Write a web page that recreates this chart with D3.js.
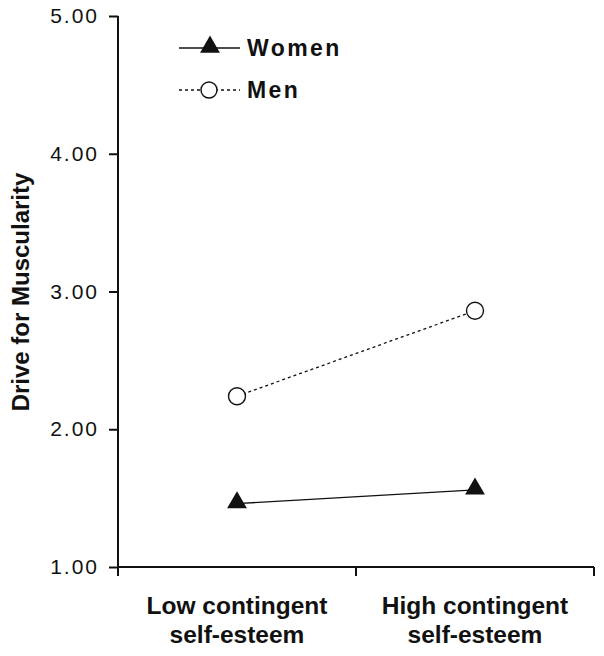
<!DOCTYPE html>
<html><head><meta charset="utf-8">
<script src="https://cdn.jsdelivr.net/npm/d3@7"></script>
<style>body{margin:0;background:#fff}svg{display:block}text{font-family:"Liberation Sans",Arial,sans-serif;fill:#111}</style>
</head><body>
<svg id="c" width="604" height="656"></svg>
<script>
const categories = ["Low contingent|self-esteem", "High contingent|self-esteem"];
const women = [1.46, 1.56];
const men = [2.24, 2.86];
const yTicks = [1, 2, 3, 4, 5];
const seriesNames = ["Women", "Men"];

const svg = d3.select("#c");
const x = d3.scaleBand().domain(categories).range([118, 594]);
const y = d3.scaleLinear().domain([1, 5]).range([567, 16]);
const cx = d => x(d) + x.bandwidth() / 2;

// Y axis
const ya = svg.append("g").attr("transform", "translate(118,0)")
  .call(d3.axisLeft(y).tickValues(yTicks).tickFormat(d3.format(".2f")).tickSize(9).tickPadding(10));
ya.select(".domain").attr("stroke", "#111").attr("stroke-width", 2).attr("d", "M0,16V567");
ya.selectAll(".tick line").attr("stroke", "#111").attr("stroke-width", 2);
ya.selectAll(".tick text").style("font-size", "21px").style("letter-spacing", "2px").attr("fill", "#111");

// X axis
const xa = svg.append("g").attr("transform", "translate(0,567)")
  .call(d3.axisBottom(x).tickFormat("").tickSize(0));
xa.select(".domain").attr("stroke", "#111").attr("stroke-width", 2).attr("d", "M118,0H594");
xa.selectAll(".tick").remove();
const xt = [118, ...categories.map(c => x(c) + x.bandwidth())];
xa.selectAll("line.xt").data(xt).enter().append("line")
  .attr("x1", d => d).attr("x2", d => d).attr("y1", 0).attr("y2", 9)
  .attr("stroke", "#111").attr("stroke-width", 2);

// X labels
categories.forEach(c => {
  const lines = c.split("|");
  lines.forEach((l, i) => {
    svg.append("text").attr("x", cx(c)).attr("y", 614 + i * 29)
      .attr("text-anchor", "middle").style("font-size", "24.5px").style("font-weight", "bold").text(l);
  });
});

// Y label
svg.append("text").attr("transform", "translate(29,292) rotate(-90)")
  .attr("text-anchor", "middle").style("font-size", "24px").style("font-weight", "bold")
  .text("Drive for Muscularity");

const line = d3.line().x((d, i) => cx(categories[i])).y(d => y(d));
const tri = d3.symbol().type(d3.symbolTriangle).size(170);

// Men
svg.append("path").attr("d", line(men)).attr("fill", "none").attr("stroke", "#111")
  .attr("stroke-width", 1.3).attr("stroke-dasharray", "3,3");
svg.selectAll("circle.m").data(men).enter().append("circle")
  .attr("cx", (d, i) => cx(categories[i])).attr("cy", d => y(d)).attr("r", 8.5)
  .attr("fill", "#fff").attr("stroke", "#111").attr("stroke-width", 1.4);

// Women
svg.append("path").attr("d", line(women)).attr("fill", "none").attr("stroke", "#111").attr("stroke-width", 1.4);
svg.selectAll("path.w").data(women).enter().append("path")
  .attr("transform", (d, i) => `translate(${cx(categories[i])},${y(d) - 1})`)
  .attr("d", tri).attr("fill", "#111");

// Legend
const lg = svg.append("g");
lg.append("line").attr("x1", 179).attr("x2", 240).attr("y1", 48).attr("y2", 48).attr("stroke", "#111").attr("stroke-width", 1.4);
lg.append("path").attr("transform", "translate(210,47)").attr("d", tri).attr("fill", "#111");
lg.append("text").attr("x", 247).attr("y", 56).style("font-size", "23px").style("font-weight", "bold").style("letter-spacing", "2.4px").text(seriesNames[0]);
lg.append("line").attr("x1", 179).attr("x2", 240).attr("y1", 90).attr("y2", 90).attr("stroke", "#111").attr("stroke-width", 1.3).attr("stroke-dasharray", "3,3");
lg.append("circle").attr("cx", 209).attr("cy", 90).attr("r", 8).attr("fill", "#fff").attr("stroke", "#111").attr("stroke-width", 1.4);
lg.append("text").attr("x", 247).attr("y", 98).style("font-size", "23px").style("font-weight", "bold").style("letter-spacing", "2.4px").text(seriesNames[1]);
</script>
</body></html>
